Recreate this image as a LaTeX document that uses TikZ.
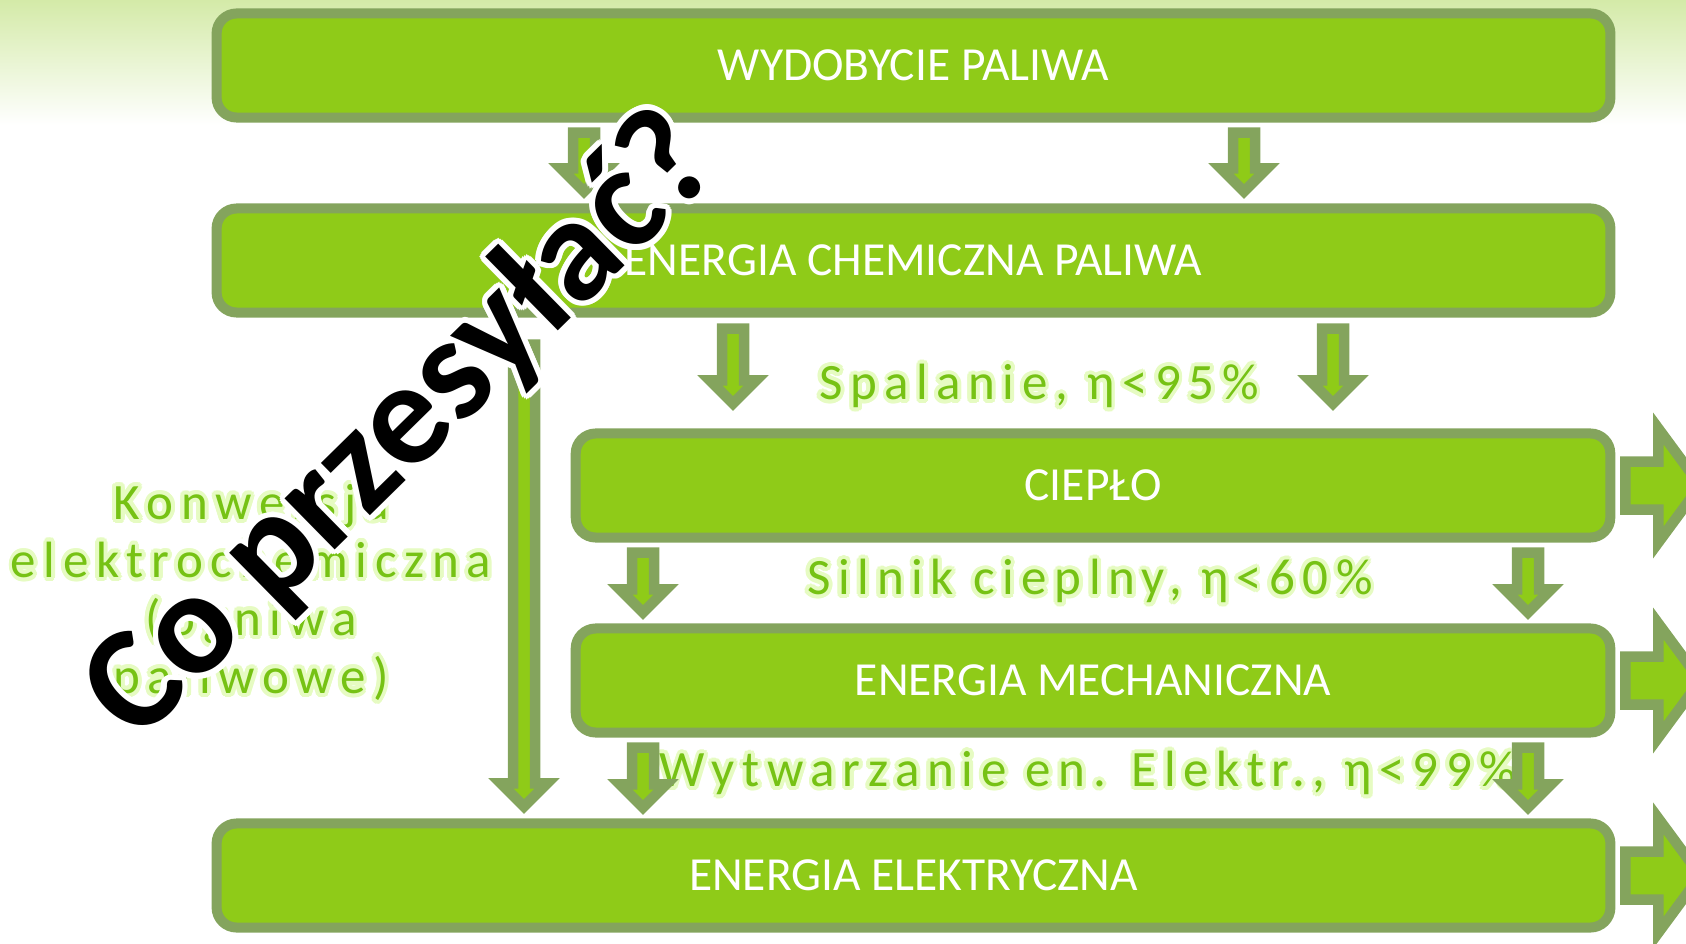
\documentclass[tikz,border=0pt]{standalone}
\usepackage{fontspec}
\setmainfont{Carlito}
\usepackage[copies]{contour}
\usetikzlibrary{calc}
\definecolor{boxfill}{HTML}{8FCB18}
\definecolor{boxline}{HTML}{84A45D}
\definecolor{labelgreen}{HTML}{76C214}
\definecolor{labelglow}{HTML}{E6FBC2}
\definecolor{fadetop}{HTML}{D4EAA8}

% block arrow between two boxes: upper box, lower box, x, top gap, tip gap
\newcommand{\downarr}[5]{%
  \coordinate (ta) at ($(#3,0 |- #1.south)+(0,#4)$);
  \coordinate (tb) at ($(#3,0 |- #2.north)+(0,-#5)$);
  \draw[flowarrow] ($(ta)+(-11,0)$) -- ($(tb)+(-11,-23)$) -- ($(tb)+(-23,-23)$) -- (tb)
    -- ($(tb)+(23,-23)$) -- ($(tb)+(11,-23)$) -- ($(ta)+(11,0)$) -- cycle;}
% block arrow leaving a box to the right
\newcommand{\rightarr}[1]{%
  \draw[flowarrow] ($(#1.east)+(10,-24)$) -- ($(#1.east)+(43,-24)$) -- ($(#1.east)+(43,-57)$)
    -- ($(#1.east)+(85,0)$) -- ($(#1.east)+(43,57)$) -- ($(#1.east)+(43,24)$) -- ($(#1.east)+(10,24)$) -- cycle;}

\begin{document}
\begin{tikzpicture}[x=0.01cm,y=-0.01cm]
\tikzset{box/.style={rectangle,rounded corners=0.2cm,draw=boxline,fill=boxfill,line width=0.1cm,
  minimum height=1.04cm,text=white,font=\fontsize{13.5}{16}\selectfont}}
\tikzset{flowarrow/.style={draw=boxline,fill=boxfill,line width=0.105cm,line join=miter}}
\tikzset{steplabel/.style={text=labelgreen,align=center,
  font=\fontsize{14.5}{16.5}\selectfont\addfontfeatures{LetterSpace=15}}}
\tikzset{question/.style={font=\fontsize{42}{44}\selectfont\bfseries,rotate=44.5}}
\useasboundingbox (0,0) rectangle (1686,943);
\shade[top color=fadetop,bottom color=white] (0,0) rectangle (1686,125);

\node[box,minimum width=13.93cm] (wyd) at (913.5,65.5) {WYDOBYCIE PALIWA};
\node[box,minimum width=13.93cm] (chem) at (913.5,260.5) {ENERGIA CHEMICZNA PALIWA};
\node[box,minimum width=10.34cm] (ciep) at (1093,485.5) {CIEPŁO};
\node[box,minimum width=10.34cm] (mech) at (1093,680.5) {ENERGIA MECHANICZNA};
\node[box,minimum width=13.93cm] (elek) at (913.5,875.5) {ENERGIA ELEKTRYCZNA};

\contourlength{1.1pt}
\node[steplabel] (spal) at (1039,388) {\contour{labelglow}{Spalanie, η<95\%}};
\node[steplabel] (siln) at (1090,583) {\contour{labelglow}{Silnik cieplny, η<60\%}};
\node[steplabel] (wytw) at (1088,775) {\contour{labelglow}{Wytwarzanie en. Elektr., η<99\%}};
\node[steplabel] (konw) at (251,595) {\contour{labelglow}{Konwersja}\\\contour{labelglow}{elektrochemiczna}\\
  \contour{labelglow}{(ogniwa}\\\contour{labelglow}{paliwowe)}};

\downarr{wyd}{chem}{584}{10}{12}
\downarr{wyd}{chem}{1244}{10}{12}
\downarr{chem}{ciep}{733}{11}{25}
\downarr{chem}{ciep}{1333}{11}{25}
\downarr{ciep}{mech}{643}{10}{11}
\downarr{ciep}{mech}{1528}{10}{11}
\downarr{mech}{elek}{643}{10}{11}
\downarr{mech}{elek}{1528}{10}{11}
\downarr{chem}{elek}{524}{27}{12}
\rightarr{ciep}
\rightarr{mech}
\rightarr{elek}

\contourlength{1.6pt}
\node[question] (pyt) at (404,430) {\contour{white}{Co przesyłać?}};
\end{tikzpicture}
\end{document}
